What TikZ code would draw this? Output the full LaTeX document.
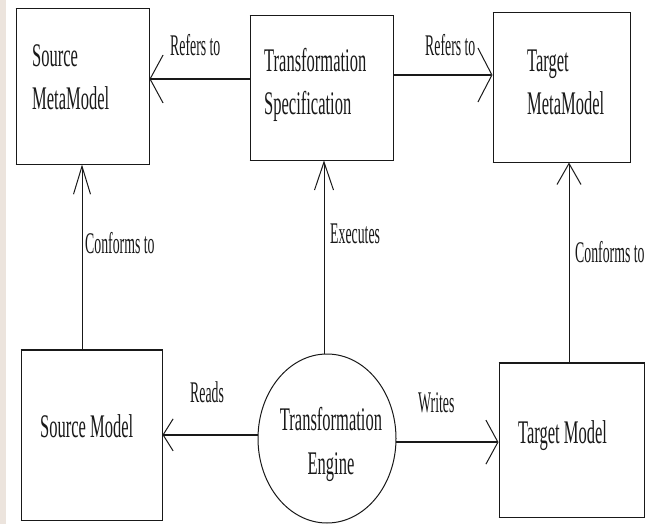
\documentclass[tikz,border=0pt]{standalone}
\usepackage{fontspec}
\newfontfamily\boxfont{Liberation Serif}[FakeStretch=0.5]
\newfontfamily\lblfont{Liberation Serif}[FakeStretch=0.46]
\usetikzlibrary{arrows.meta,shapes.geometric}
\definecolor{ink}{RGB}{25,25,25}
\definecolor{strip}{RGB}{236,228,221}
\tikzset{
  box/.style={draw=ink, line width=1pt, rectangle, inner sep=0pt},
  eng/.style={draw=ink, line width=1pt, ellipse, inner sep=0pt},
  boxtext/.style={font=\boxfont\fontsize{33}{43.5}\selectfont, text=ink, inner sep=0pt, align=left, anchor=base west},
  lbl/.style={font=\lblfont\fontsize{30}{36}\selectfont, text=ink, inner sep=0pt, anchor=base west},
  hline/.style={draw=ink, line width=1.7pt},
  vline/.style={draw=ink, line width=1pt},
}
\begin{document}
\begin{tikzpicture}[x=1pt,y=-1pt]
\useasboundingbox (0,0) rectangle (653,524);
\fill[white] (0,0) rectangle (653,524);
\fill[strip] (0,0) rectangle (6,524);

% boxes
\node[box, minimum width=133, minimum height=155] (smm) at (82.5,86.5) {};
\node[box, minimum width=143, minimum height=144] (ts) at (321.5,88) {};
\node[box, minimum width=137, minimum height=149] (tmm) at (561.5,87.5) {};
\node[box, minimum width=141, minimum height=170] (sm) at (91.5,435) {};
\node[box, minimum width=145, minimum height=154] (tm) at (571.5,440) {};
\node[eng, minimum width=138, minimum height=169] (eng) at (327,438.5) {};

% thicker horizontal edges
\foreach \b in {smm,ts,tmm,sm,tm}{
  \draw[hline] (\b.north west) -- (\b.north east);
  \draw[hline] (\b.south west) -- (\b.south east);
}

% texts (anchor = baseline of last line)
\node[boxtext] (smmt) at (32,110) {Source\\MetaModel};
\node[boxtext] (tst) at (264,115) {Transformation\\Specification};
\node[boxtext] (tmmt) at (527,115) {Target\\MetaModel};
\node[boxtext] (smt) at (40,437) {Source Model};
\node[boxtext] (tmt) at (518,443) {Target Model};
\node[boxtext, align=center, anchor=base] (engt) at (331,474) {Transformation\\Engine};

% connectors
\draw[hline, -{Straight Barb[length=13pt, width=48pt, line width=1pt]}] (ts.west |- 0,79) -- (smm.east |- 0,79);
\draw[hline, -{Straight Barb[length=14pt, width=54pt, line width=1pt]}] (ts.east |- 0,75) -- (tmm.west |- 0,75);
\draw[hline, -{Straight Barb[length=10pt, width=32pt, line width=1pt]}] (eng.177) -- (sm.east |- eng.177);
\draw[hline, -{Straight Barb[length=12pt, width=44pt, line width=1pt]}] (eng.-3) -- (tm.west |- eng.-3);
\draw[vline, -{Straight Barb[length=28pt, width=17pt, line width=1pt]}] (sm.north -| 82,0) -- (smm.south -| 82,0);
\draw[vline, -{Straight Barb[length=28pt, width=19pt, line width=1pt]}] (eng.north -| 324,0) -- (ts.south -| 324,0);
\draw[vline, -{Straight Barb[length=21pt, width=24pt, line width=1pt]}] (tm.north -| 569,0) -- (tmm.south -| 569,0);

% labels
\node[lbl] (l1) at (170,56) {Refers to};
\node[lbl] (l2) at (425,56) {Refers to};
\node[lbl] (l3) at (85,253) {Conforms to};
\node[lbl] (l4) at (330,243) {Executes};
\node[lbl] (l5) at (575,262) {Conforms to};
\node[lbl] (l6) at (190,402) {Reads};
\node[lbl] (l7) at (418,412) {Writes};
\end{tikzpicture}
\end{document}
